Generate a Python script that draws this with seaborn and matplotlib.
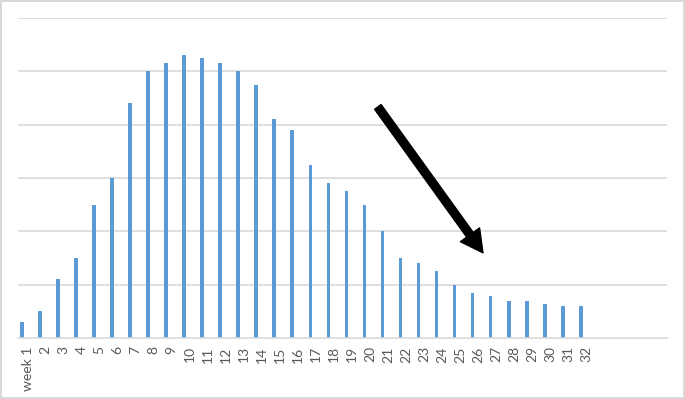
import pandas as pd
import numpy as np
import matplotlib.pyplot as plt
import seaborn as sns

# weekly values (gridline step = 10)
weeks = ["week 1"] + [str(i) for i in range(2, 33)]
values = [3, 5, 11, 15, 25, 30, 44, 50, 51.5, 53, 52.5, 51.5, 50, 47.5, 41, 39,
          32.5, 29, 27.5, 25, 20, 15, 14, 12.5, 10, 8.4, 7.9, 6.9, 6.9, 6.4, 5.9, 5.9]
# empty category slots at the end of the axis
empty_slots = ["33", "34", "35", "36"]

data = pd.DataFrame({"week": weeks, "value": values})

sns.set_style("white")
plt.rcParams['font.family'] = ['Lato', 'DejaVu Sans']

fig = plt.figure(figsize=(6.85, 3.99), dpi=100, edgecolor='#d9d9d9', linewidth=1.5)
ax = fig.add_axes([0.027, 0.153, 0.947, 0.802])

sns.barplot(data=data, x="week", y="value", order=weeks + empty_slots,
            color="#5B9BD5", saturation=1, width=0.21, linewidth=0, ax=ax)
# bars sit a bit left of the category centre (empty 2nd series in the original)
for p in ax.patches:
    p.set_x(p.get_x() - 0.3)

ax.set_ylim(0, 60)
ax.set_xlim(-0.5, len(weeks) + len(empty_slots) - 0.5)
ax.set_yticks(np.arange(10, 61, 10))
ax.yaxis.grid(True, color='#d9d9d9', linewidth=1.2)
ax.set_axisbelow(True)
ax.set_yticklabels([])
ax.tick_params(axis='y', length=0)
ax.set_xticks(range(len(weeks) + len(empty_slots)))
ax.set_xticklabels(weeks + [""] * len(empty_slots), rotation=90,
                   fontsize=10, color='#595959')
ax.tick_params(axis='x', length=0, pad=6)
for s in ['top', 'right', 'left']:
    ax.spines[s].set_visible(False)
ax.spines['bottom'].set_color('#d9d9d9')
ax.spines['bottom'].set_linewidth(1.2)
ax.set_xlabel('')
ax.set_ylabel('')

# the big black arrow
ax.annotate('', xy=(0.716, 0.266), xytext=(0.554, 0.722),
            xycoords='axes fraction', textcoords='axes fraction',
            arrowprops=dict(width=5.8, headwidth=17, headlength=16,
                            shrink=0, facecolor='black', edgecolor='black'))

fig.savefig("out.png", dpi=100, edgecolor=fig.get_edgecolor())
